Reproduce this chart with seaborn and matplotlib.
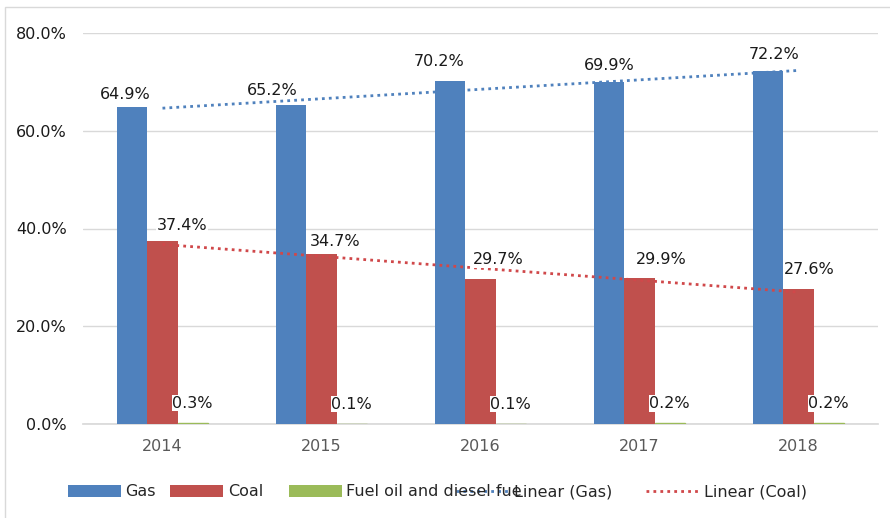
import numpy as np
import pandas as pd
import matplotlib
matplotlib.use("Agg")
import matplotlib.pyplot as plt
from matplotlib.patches import Patch, Rectangle
from matplotlib.lines import Line2D
import seaborn as sns

# Share of electricity generation by fuel, 2014-2018 (%)
years = ["2014", "2015", "2016", "2017", "2018"]
gas = [64.9, 65.2, 70.2, 69.9, 72.2]
coal = [37.4, 34.7, 29.7, 29.9, 27.6]
fuel_oil = [0.3, 0.1, 0.1, 0.2, 0.2]
series_names = ["Gas", "Coal", "Fuel oil and diesel fuel"]
legend_labels = ["Gas", "Coal", "Fuel oil and diesel fue", "Linear (Gas)", "Linear (Coal)"]
y_ticks = [0, 20, 40, 60, 80]

colors = ["#4F81BD", "#C0504D", "#9BBB59"]
FS = 11.5

df = pd.DataFrame({
    "year": years * 3,
    "source": [series_names[0]] * 5 + [series_names[1]] * 5 + [series_names[2]] * 5,
    "share": gas + coal + fuel_oil,
})

sns.set_theme(style="white")
plt.rcParams["font.family"] = ["DejaVu Sans"]

fig = plt.figure(figsize=(8.9, 5.18), dpi=100)
ax = fig.add_axes([83 / 890, 1 - 424 / 518, (878 - 83) / 890, (424 - 33) / 518])

sns.barplot(data=df, x="year", y="share", hue="source", palette=colors,
            width=0.57, saturation=1, legend=False, ax=ax, zorder=2,
            linewidth=0, edgecolor="none")

# Linear trendlines for gas and coal
dots = (0, (1, 1.5))
idx = np.arange(len(years))
sns.regplot(x=idx, y=np.array(gas), scatter=False, ci=None, truncate=True, ax=ax,
            color="#4F81BD", line_kws=dict(ls=dots, lw=2, zorder=3))
sns.regplot(x=idx, y=np.array(coal), scatter=False, ci=None, truncate=True, ax=ax,
            color="#D0484A", line_kws=dict(ls=dots, lw=2, zorder=3))

ax.set_xlim(-0.5, len(years) - 0.5)
ax.set_ylim(0, 80)
ax.set_yticks(y_ticks)
ax.set_yticklabels([f"{t:.1f}%" for t in y_ticks])
ax.set_xlabel("")
ax.set_ylabel("")
ax.yaxis.grid(True, color="#D9D9D9", lw=1, zorder=0)
ax.set_axisbelow(True)
for s in ["top", "right", "left"]:
    ax.spines[s].set_visible(False)
ax.spines["bottom"].set_color("#D9D9D9")
ax.spines["bottom"].set_zorder(1)
ax.tick_params(axis="y", length=0, pad=11.5, labelsize=FS, labelcolor="#1A1A1A")
ax.tick_params(axis="x", length=0, pad=10.5, labelsize=FS, labelcolor="#595959")

# Fuel-oil bars are tiny; give them a hairline so they stay visible on the baseline
for bar in ax.containers[2]:
    bar.set_edgecolor("#9BBB59")
    bar.set_linewidth(1.0)

# Value labels (offsets in points from each bar top)
gas_off = [(-5, 9), (-14, 11), (-8, 14), (0, 12), (4, 12)]
coal_off = [(14, 11), (10, 9), (13, 14), (16, 13), (8, 14)]
fuel_off = [(0, 14)] * 5
box = dict(boxstyle="square,pad=0.05", fc="white", ec="none")
for container, offs in zip(ax.containers, [gas_off, coal_off, fuel_off]):
    for bar, (dx, dy) in zip(container, offs):
        v = bar.get_height()
        ax.annotate(f"{v:.1f}%", (bar.get_x() + bar.get_width() / 2, v),
                    xytext=(dx, dy), textcoords="offset points",
                    ha="center", va="center", fontsize=FS, color="#1A1A1A",
                    bbox=box, zorder=5)

# Legend along the bottom
bar_handles = [Patch(fc=c, ec="none") for c in colors]
line_handles = [Line2D([], [], color="#4F81BD", ls=dots, lw=2),
                Line2D([], [], color="#D0484A", ls=dots, lw=2)]
common = dict(loc="center left", frameon=False, fontsize=FS, handlelength=3.3,
              borderaxespad=0, borderpad=0)
leg_y = 1 - 492 / 518
leg1 = fig.legend(bar_handles[:2], legend_labels[:2], ncol=2,
                  bbox_to_anchor=(68 / 890, leg_y), handletextpad=0.3,
                  columnspacing=0.9, **common)
leg3 = fig.legend(line_handles, legend_labels[3:], ncol=2,
                  bbox_to_anchor=(456 / 890, leg_y), handletextpad=0.35,
                  columnspacing=2.1, **common)
leg2 = fig.legend(bar_handles[2:], legend_labels[2:3], ncol=1,
                  bbox_to_anchor=(289 / 890, leg_y), handletextpad=0.3, **common)
leg3.set_zorder(0)
leg2.set_zorder(1)

# Thin outer frame
fig.patches.append(Rectangle((5 / 890, -0.02), 1.1, 1 - 7 / 518 + 0.02,
                             transform=fig.transFigure, fill=False,
                             ec="#D9D9D9", lw=1))

fig.savefig("out.png", dpi=100)
